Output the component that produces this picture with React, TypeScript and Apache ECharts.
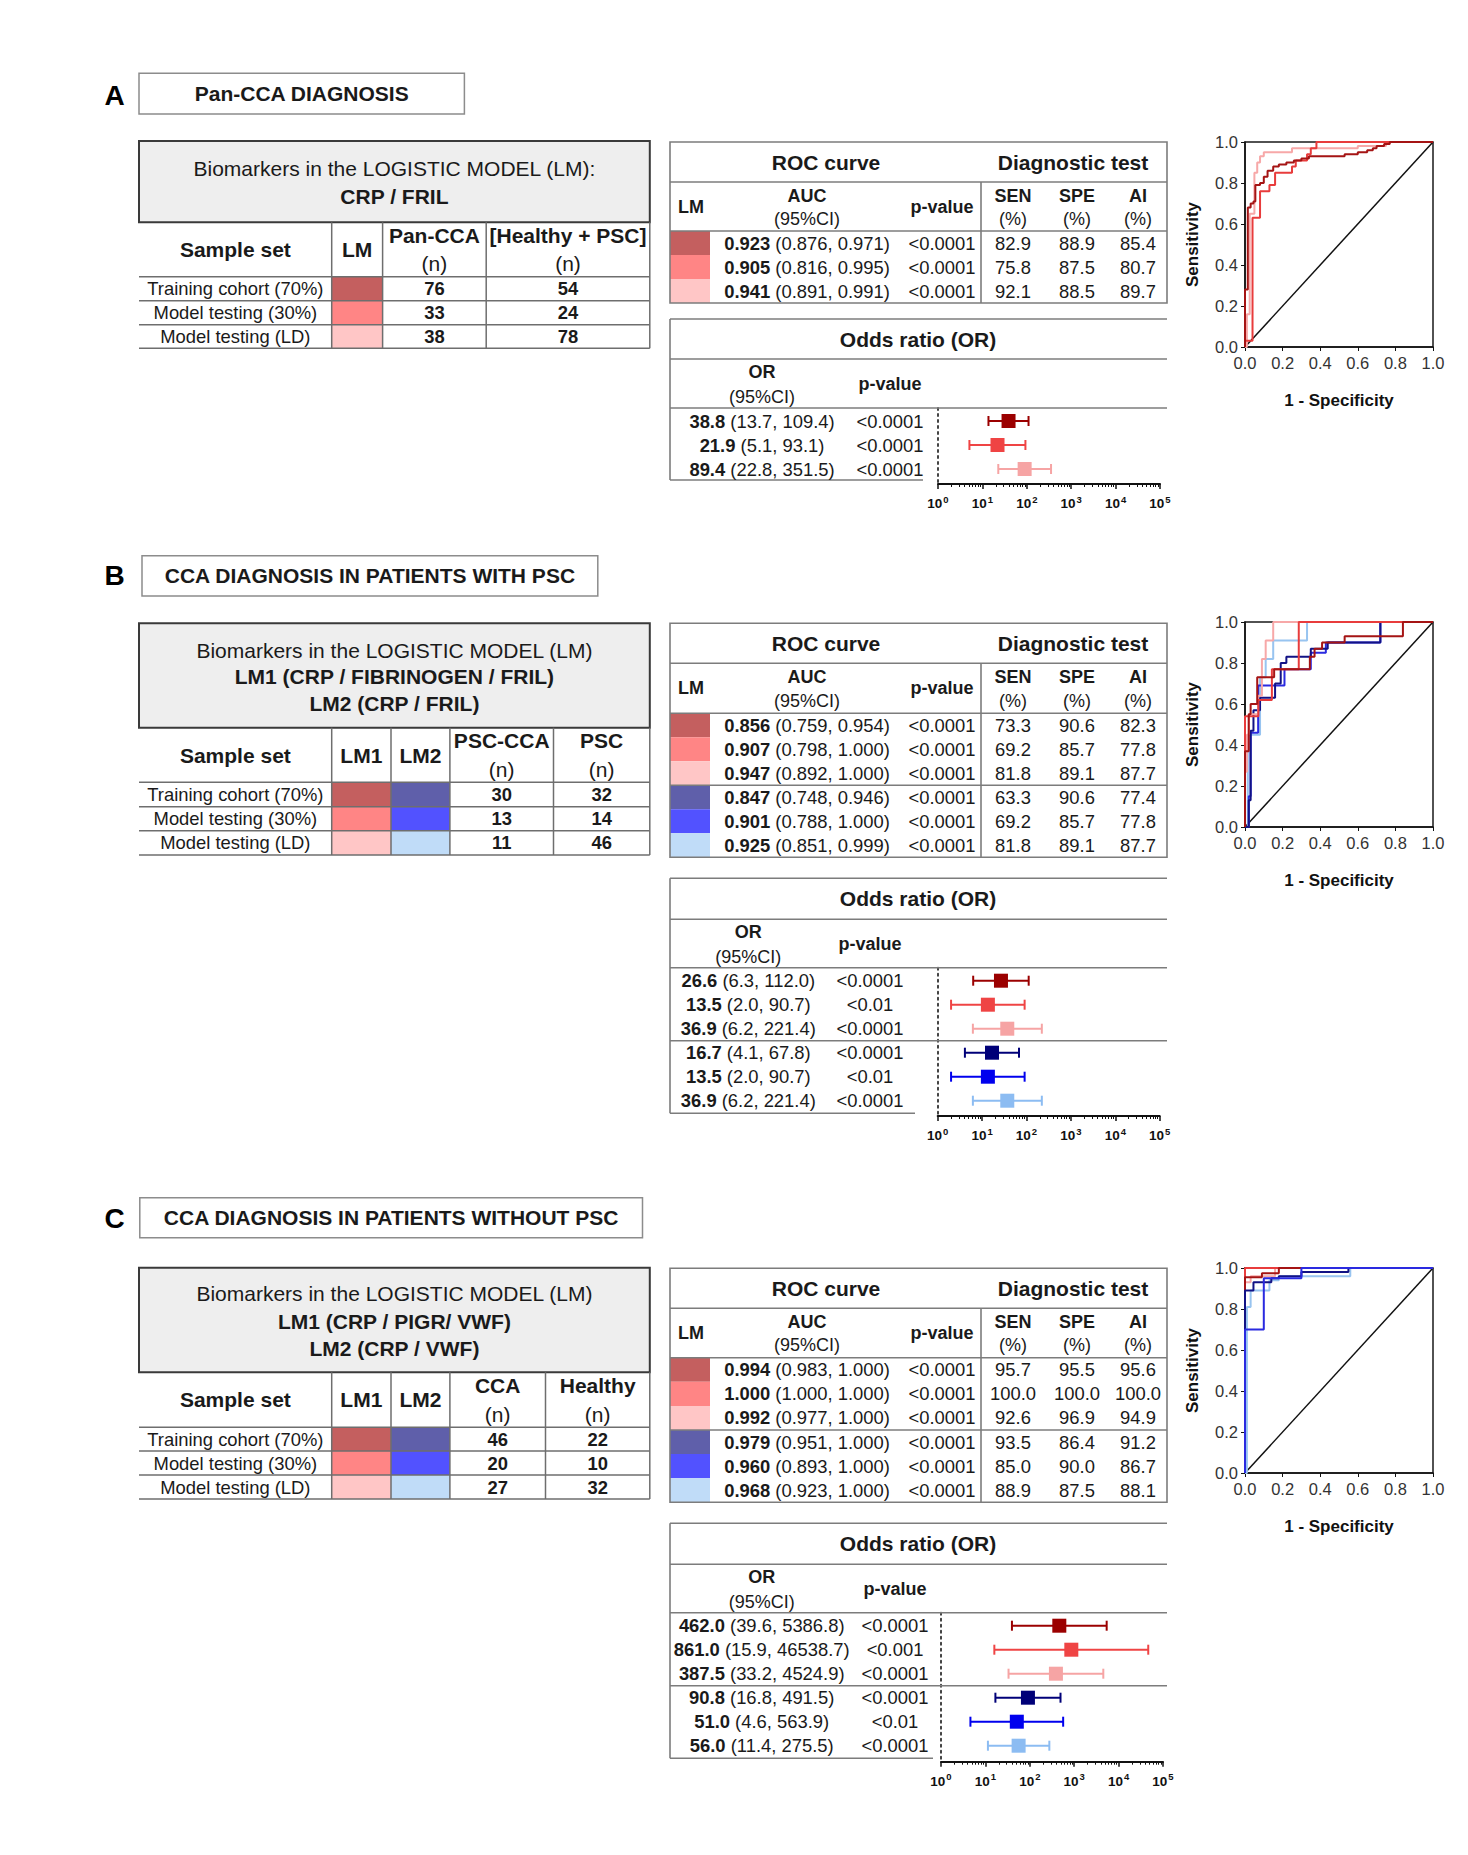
import React, { useEffect, useRef } from "react";
import * as echarts from "echarts";

const FONT = "'Liberation Sans', Arial, Helvetica, sans-serif";
const INK = "#1a1a1a";

// ---------------- DATA ----------------
const panelLetters = ["A", "B", "C"];
const panelTitles = [
  "Pan-CCA DIAGNOSIS",
  "CCA DIAGNOSIS IN PATIENTS WITH PSC",
  "CCA DIAGNOSIS IN PATIENTS WITHOUT PSC",
];
const sampleSets = ["Training cohort (70%)", "Model testing (30%)", "Model testing (LD)"];

const modelTextA = ["Biomarkers in the LOGISTIC MODEL (LM):", "CRP / FRIL"];
const modelTextB = ["Biomarkers in the LOGISTIC MODEL (LM)", "LM1 (CRP / FIBRINOGEN / FRIL)", "LM2 (CRP / FRIL)"];
const modelTextC = ["Biomarkers in the LOGISTIC MODEL (LM)", "LM1 (CRP / PIGR/ VWF)", "LM2 (CRP / VWF)"];

const groupHeadersA = ["Pan-CCA", "[Healthy + PSC]"];
const groupHeadersB = ["PSC-CCA", "PSC"];
const groupHeadersC = ["CCA", "Healthy"];

const nCaseA = [76, 33, 38];
const nCtrlA = [54, 24, 78];
const nCaseB = [30, 13, 11];
const nCtrlB = [32, 14, 46];
const nCaseC = [46, 20, 27];
const nCtrlC = [22, 10, 32];

const aucA = [0.923, 0.905, 0.941];
const aucLoA = [0.876, 0.816, 0.891];
const aucHiA = [0.971, 0.995, 0.991];
const aucPA = ["<0.0001", "<0.0001", "<0.0001"];
const senA = [82.9, 75.8, 92.1];
const speA = [88.9, 87.5, 88.5];
const aiA = [85.4, 80.7, 89.7];

const aucB = [0.856, 0.907, 0.947, 0.847, 0.901, 0.925];
const aucLoB = [0.759, 0.798, 0.892, 0.748, 0.788, 0.851];
const aucHiB = [0.954, 1.0, 1.0, 0.946, 1.0, 0.999];
const aucPB = ["<0.0001", "<0.0001", "<0.0001", "<0.0001", "<0.0001", "<0.0001"];
const senB = [73.3, 69.2, 81.8, 63.3, 69.2, 81.8];
const speB = [90.6, 85.7, 89.1, 90.6, 85.7, 89.1];
const aiB = [82.3, 77.8, 87.7, 77.4, 77.8, 87.7];

const aucC = [0.994, 1.0, 0.992, 0.979, 0.96, 0.968];
const aucLoC = [0.983, 1.0, 0.977, 0.951, 0.893, 0.923];
const aucHiC = [1.0, 1.0, 1.0, 1.0, 1.0, 1.0];
const aucPC = ["<0.0001", "<0.0001", "<0.0001", "<0.0001", "<0.0001", "<0.0001"];
const senC = [95.7, 100.0, 92.6, 93.5, 85.0, 88.9];
const speC = [95.5, 100.0, 96.9, 86.4, 90.0, 87.5];
const aiC = [95.6, 100.0, 94.9, 91.2, 86.7, 88.1];

const orA = [38.8, 21.9, 89.4];
const orLoA = [13.7, 5.1, 22.8];
const orHiA = [109.4, 93.1, 351.5];
const orPA = ["<0.0001", "<0.0001", "<0.0001"];

const orB = [26.6, 13.5, 36.9, 16.7, 13.5, 36.9];
const orLoB = [6.3, 2.0, 6.2, 4.1, 2.0, 6.2];
const orHiB = [112.0, 90.7, 221.4, 67.8, 90.7, 221.4];
const orPB = ["<0.0001", "<0.01", "<0.0001", "<0.0001", "<0.01", "<0.0001"];

const orC = [462.0, 861.0, 387.5, 90.8, 51.0, 56.0];
const orLoC = [39.6, 15.9, 33.2, 16.8, 4.6, 11.4];
const orHiC = [5386.8, 46538.7, 4524.9, 491.5, 563.9, 275.5];
const orPC = ["<0.0001", "<0.001", "<0.0001", "<0.0001", "<0.01", "<0.0001"];

// ROC curves: [1 - specificity, sensitivity] corners
const rocA_train = [[0, 0], [0, 0.28], [0.015, 0.68], [0.03, 0.7], [0.045, 0.71], [0.055, 0.79], [0.08, 0.8], [0.1, 0.83], [0.12, 0.86], [0.15, 0.88], [0.18, 0.89], [0.22, 0.9], [0.26, 0.91], [0.3, 0.92], [0.34, 0.93], [0.53, 0.94], [0.6, 0.95], [0.65, 0.96], [0.68, 0.97], [0.7, 0.98], [0.74, 0.99], [0.77, 1.0], [1, 1]];
const rocA_test = [[0, 0], [0, 0.03], [0.04, 0.63], [0.08, 0.76], [0.13, 0.79], [0.16, 0.85], [0.25, 0.88], [0.27, 0.91], [0.33, 0.94], [0.35, 0.97], [0.38, 1.0], [1, 1]];
const rocA_ld = [[0, 0], [0.01, 0.16], [0.025, 0.65], [0.05, 0.85], [0.065, 0.9], [0.08, 0.93], [0.1, 0.95], [0.25, 0.97], [0.6, 0.98], [0.75, 1.0], [1, 1]];

const rocB_lm1_train = [[0, 0], [0, 0.37], [0.02, 0.55], [0.03, 0.6], [0.065, 0.73], [0.155, 0.77], [0.345, 0.83], [0.37, 0.87], [0.41, 0.9], [0.53, 0.93], [0.84, 1.0], [1, 1]];
const rocB_lm1_test = [[0, 0], [0, 0.54], [0.071, 0.62], [0.143, 0.77], [0.286, 1.0], [1, 1]];
const rocB_lm1_ld = [[0, 0], [0, 0.27], [0.01, 0.45], [0.02, 0.55], [0.07, 0.64], [0.09, 0.82], [0.11, 0.91], [0.15, 1.0], [1, 1]];
const rocB_lm2_train = [[0, 0], [0.02, 0.13], [0.03, 0.47], [0.045, 0.57], [0.08, 0.63], [0.16, 0.7], [0.19, 0.8], [0.22, 0.83], [0.35, 0.87], [0.44, 0.9], [0.72, 1.0], [1, 1]];
const rocB_lm2_test = [[0, 0], [0.02, 0.15], [0.03, 0.46], [0.07, 0.69], [0.21, 0.77], [0.35, 0.85], [0.43, 0.9], [0.72, 1.0], [1, 1]];
const rocB_lm2_ld = [[0, 0], [0.015, 0.45], [0.08, 0.73], [0.11, 0.82], [0.15, 0.91], [0.33, 1.0], [1, 1]];

const rocC_lm1_train = [[0, 0], [0, 0.955], [0.09, 0.975], [0.18, 1.0], [1, 1]];
const rocC_lm1_test = [[0, 0], [0, 1.0], [1, 1]];
const rocC_lm1_ld = [[0, 0], [0, 0.93], [0.03, 0.96], [0.16, 1.0], [1, 1]];
const rocC_lm2_train = [[0, 0], [0, 0.89], [0.045, 0.93], [0.14, 0.95], [0.18, 0.96], [0.3, 0.98], [0.55, 1.0], [1, 1]];
const rocC_lm2_test = [[0, 0], [0, 0.7], [0.1, 0.95], [0.3, 1.0], [1, 1]];
const rocC_lm2_ld = [[0, 0], [0.01, 0.81], [0.03, 0.89], [0.13, 0.94], [0.18, 0.96], [0.56, 1.0], [1, 1]];

const diagonal = [[0, 0], [1, 1]];

// ---------------- STYLE ----------------
const SW_RED = ["#c45f5f", "#ff8585", "#ffc6c6"];
const SW_BLUE = ["#5f5faa", "#5252ff", "#c0dcf8"];
const ROC_RED = ["#a51414", "#e83c3c", "#f7a8a8"];
const ROC_BLUE = ["#121285", "#2a2ae0", "#98c4f0"];
const FOR_COL = ["#9b0000", "#ef4444", "#f6a4a4", "#000078", "#0000ee", "#8cbcf2"];

const ROW_FS = 18.4;

function buildGraphics() {
  const G: any[] = [];
  const text = (x: number, y: number, t: string, size: number, bold = false, align = "center", fill = INK) => {
    G.push({
      type: "text", x, y, silent: true, z: 10,
      style: {
        text: t, fontSize: size, fontWeight: bold ? "bold" : "normal", fontFamily: FONT, fill,
        align, verticalAlign: "middle", textAlign: align, textVerticalAlign: "middle",
      },
    });
  };
  const boldLead = (x: number, y: number, lead: string, rest: string, size: number) => {
    G.push({
      type: "text", x, y, silent: true, z: 10,
      style: {
        text: `{b|${lead}}{r|${rest}}`,
        rich: {
          b: { fontSize: size, fontWeight: "bold", fontFamily: FONT, fill: INK },
          r: { fontSize: size, fontWeight: "normal", fontFamily: FONT, fill: INK },
        },
        fontSize: size, fontFamily: FONT, fill: INK,
        align: "center", verticalAlign: "middle", textAlign: "center", textVerticalAlign: "middle",
      },
    });
  };
  const rect = (x: number, y: number, w: number, h: number, fill: string, stroke = "none", lw = 1, z = 1) => {
    G.push({ type: "rect", silent: true, z, shape: { x, y, width: w, height: h }, style: { fill, stroke, lineWidth: lw } });
  };
  const hline = (x1: number, x2: number, y: number, color = "#7c7c7c", lw = 1.6) => {
    G.push({ type: "line", silent: true, z: 5, shape: { x1, y1: y, x2, y2: y }, style: { stroke: color, lineWidth: lw } });
  };
  const vline = (x: number, y1: number, y2: number, color = "#7c7c7c", lw = 1.6) => {
    G.push({ type: "line", silent: true, z: 5, shape: { x1: x, y1, x2: x, y2 }, style: { stroke: color, lineWidth: lw } });
  };

  // ---------- left tables ----------
  const L = 139, R = 649.8;
  const drawLeft = (p: any) => {
    text(114.7, p.letterY, p.letter, 28, true, "center", "#000");
    rect(p.box[0], p.box[1], p.box[2], p.box[3], "#ffffff", "#8c8c8c", 1.5);
    text(p.box[0] + p.box[2] / 2, p.box[1] + p.box[3] / 2, p.title, 21, true);
    rect(L, p.grayTop, R - L, p.headTop - p.grayTop, "#eeeeee", "#3a3a3a", 2, 2);
    p.lines.forEach((t: string, i: number) => text((L + R) / 2, p.lineY[i], t, 21, i > 0));
    const rl = p.rowLines;
    const bottom = rl[3];
    p.swatchCols.forEach((cols: string[], c: number) => {
      const x0 = p.cols[c], x1 = p.cols[c + 1];
      for (let i = 0; i < 3; i++) rect(x0, rl[i], x1 - x0, rl[i + 1] - rl[i], cols[i]);
    });
    p.cols.forEach((x: number) => vline(x, p.headTop, bottom, "#6e6e6e", 1.5));
    vline(R, p.headTop, bottom, "#6e6e6e", 1.5);
    rl.forEach((y: number) => hline(L, R, y, "#6e6e6e", 1.5));
    const headMid = (p.headTop + rl[0]) / 2;
    const sx = (L + p.cols[0]) / 2;
    text(sx, headMid, "Sample set", 21, true);
    p.lmLabels.forEach((t: string, c: number) => text((p.cols[c] + p.cols[c + 1]) / 2, headMid, t, 21, true));
    const nc = p.cols.length;
    const gx = [(p.cols[nc - 2] + p.cols[nc - 1]) / 2, (p.cols[nc - 1] + R) / 2];
    p.groups.forEach((t: string, g: number) => {
      text(gx[g], p.headTop + 13, t, 21, true);
      text(gx[g], rl[0] - 13, "(n)", 21);
    });
    for (let i = 0; i < 3; i++) {
      const cy = (rl[i] + rl[i + 1]) / 2;
      text(sx, cy, sampleSets[i], ROW_FS);
      text(gx[0], cy, String(p.nCase[i]), ROW_FS, true);
      text(gx[1], cy, String(p.nCtrl[i]), ROW_FS, true);
    }
  };

  drawLeft({
    letter: panelLetters[0], letterY: 95, box: [139, 73.3, 325.4, 40.7], title: panelTitles[0],
    grayTop: 141, headTop: 222.3, lines: modelTextA, lineY: [168.3, 196.7],
    cols: [331.7, 382.6, 486.2], swatchCols: [SW_RED], lmLabels: ["LM"],
    rowLines: [276.7, 300.7, 324.8, 348.3], groups: groupHeadersA, nCase: nCaseA, nCtrl: nCtrlA,
  });
  drawLeft({
    letter: panelLetters[1], letterY: 575.5, box: [142, 555.7, 455.8, 40.3], title: panelTitles[1],
    grayTop: 623.3, headTop: 727.7, lines: modelTextB, lineY: [650, 676.7, 703.3],
    cols: [331.7, 391, 449.9, 553.5], swatchCols: [SW_RED, SW_BLUE], lmLabels: ["LM1", "LM2"],
    rowLines: [782.3, 806.7, 830.7, 855], groups: groupHeadersB, nCase: nCaseB, nCtrl: nCtrlB,
  });
  drawLeft({
    letter: panelLetters[2], letterY: 1218.3, box: [139.8, 1197.7, 502.7, 40], title: panelTitles[2],
    grayTop: 1267.7, headTop: 1372.3, lines: modelTextC, lineY: [1293.3, 1321, 1348.3],
    cols: [331.7, 391, 449.9, 545.5], swatchCols: [SW_RED, SW_BLUE], lmLabels: ["LM1", "LM2"],
    rowLines: [1427.3, 1451, 1475, 1499], groups: groupHeadersC, nCase: nCaseC, nCtrl: nCtrlC,
  });

  // ---------- ROC tables ----------
  const TL = 670, TR = 1167, TV = 981;
  const drawRoc = (p: any) => {
    const n = p.auc.length;
    const rowH = (p.bottom - p.headBottom) / n;
    const sw = n === 3 ? SW_RED : SW_RED.concat(SW_BLUE);
    for (let i = 0; i < n; i++) rect(TL, p.headBottom + i * rowH, 40, rowH, sw[i]);
    rect(TL, p.top, TR - TL, p.bottom - p.top, "none", "#7c7c7c", 1.6, 5);
    hline(TL, TR, p.line1);
    hline(TL, TR, p.headBottom);
    if (n === 6) hline(TL, TR, p.headBottom + 3 * rowH);
    vline(TV, p.line1, p.bottom);
    text(826, (p.top + p.line1) / 2, "ROC curve", 21, true);
    text(1073, (p.top + p.line1) / 2, "Diagnostic test", 21, true);
    const h1 = p.line1 + 13.5, h2 = p.headBottom - 12.5, hm = (p.line1 + p.headBottom) / 2;
    text(691, hm, "LM", 18, true);
    text(807, h1, "AUC", 18, true);
    text(807, h2, "(95%CI)", 18);
    text(942, hm, "p-value", 18, true);
    [["SEN", 1013], ["SPE", 1077], ["AI", 1138]].forEach(([t, x]: any) => {
      text(x, h1, t, 18, true);
      text(x, h2, "(%)", 18);
    });
    for (let i = 0; i < n; i++) {
      const cy = p.headBottom + (i + 0.5) * rowH;
      boldLead(807, cy, p.auc[i].toFixed(3), ` (${p.lo[i].toFixed(3)}, ${p.hi[i].toFixed(3)})`, ROW_FS);
      text(942, cy, p.pv[i], ROW_FS);
      text(1013, cy, p.sen[i].toFixed(1), ROW_FS);
      text(1077, cy, p.spe[i].toFixed(1), ROW_FS);
      text(1138, cy, p.ai[i].toFixed(1), ROW_FS);
    }
  };
  drawRoc({ top: 142, line1: 182, headBottom: 231, bottom: 303, auc: aucA, lo: aucLoA, hi: aucHiA, pv: aucPA, sen: senA, spe: speA, ai: aiA });
  drawRoc({ top: 623.3, line1: 663.3, headBottom: 713.3, bottom: 857.3, auc: aucB, lo: aucLoB, hi: aucHiB, pv: aucPB, sen: senB, spe: speB, ai: aiB });
  drawRoc({ top: 1268.3, line1: 1308.3, headBottom: 1357.7, bottom: 1502.3, auc: aucC, lo: aucLoC, hi: aucHiC, pv: aucPC, sen: senC, spe: speC, ai: aiC });

  // ---------- OR tables ----------
  const drawOr = (p: any) => {
    const n = p.or.length;
    hline(TL, TR, p.top);
    hline(TL, TR, p.line1);
    hline(TL, TR, p.headBottom);
    if (n === 6) hline(TL, TR, p.headBottom + 13 + 2.5 * 24);
    hline(TL, p.bottomR, p.bottom);
    vline(TL, p.top, p.bottom);
    text(918, (p.top + p.line1) / 2, "Odds ratio (OR)", 21, true);
    text(p.orX, p.line1 + 13, "OR", 18, true);
    text(p.orX, p.headBottom - 11, "(95%CI)", 18);
    text(p.pX, (p.line1 + p.headBottom) / 2, "p-value", 18, true);
    for (let i = 0; i < n; i++) {
      const cy = p.headBottom + 13 + i * 24;
      boldLead(p.orX, cy, p.or[i].toFixed(1), ` (${p.lo[i].toFixed(1)}, ${p.hi[i].toFixed(1)})`, ROW_FS);
      text(p.pX, cy, p.pv[i], ROW_FS);
    }
  };
  drawOr({ top: 319, line1: 359, headBottom: 408, bottom: 480, bottomR: 923, orX: 762, pX: 890, or: orA, lo: orLoA, hi: orHiA, pv: orPA });
  drawOr({ top: 878.3, line1: 919.3, headBottom: 967.7, bottom: 1113.3, bottomR: 915, orX: 748.3, pX: 870, or: orB, lo: orLoB, hi: orHiB, pv: orPB });
  drawOr({ top: 1523.3, line1: 1564.3, headBottom: 1612.7, bottom: 1758.3, bottomR: 933, orX: 761.7, pX: 895, or: orC, lo: orLoC, hi: orHiC, pv: orPC });

  return G;
}

function buildOption() {
  const rocTops = [142, 622, 1268];
  const forestGrids = [
    { left: 938, top: 408, axisY: 484 },
    { left: 937.7, top: 967.7, axisY: 1116 },
    { left: 941, top: 1612.7, axisY: 1761.7 },
  ];
  const grid: any[] = [];
  const xAxis: any[] = [];
  const yAxis: any[] = [];
  const series: any[] = [];

  rocTops.forEach((top, gi) => {
    grid.push({ left: 1245, top, width: 188, height: 205, show: true, borderColor: "#1a1a1a", borderWidth: 1.5, backgroundColor: "transparent" });
    const common = {
      type: "value", gridIndex: gi, min: 0, max: 1, interval: 0.2,
      nameLocation: "middle", nameGap: 46,
      nameTextStyle: { fontSize: 17, fontWeight: "bold", color: "#111", fontFamily: FONT },
      axisLine: { onZero: false, lineStyle: { color: "#111", width: 1.5 } },
      axisTick: { show: true, length: 4, lineStyle: { color: "#111" } },
      axisLabel: { fontSize: 16.5, color: "#333", fontFamily: FONT, margin: 7, formatter: (v: number) => v.toFixed(1) },
      splitLine: { show: false },
    };
    xAxis.push({ ...common, name: "1 - Specificity", nameGap: 45 });
    yAxis.push({ ...common, name: "Sensitivity", nameRotate: 90, nameGap: 44 });
  });

  forestGrids.forEach((f, k) => {
    const gi = 3 + k;
    grid.push({ left: f.left, top: f.top, width: 222, height: f.axisY - f.top });
    xAxis.push({
      type: "log", logBase: 10, gridIndex: gi, min: 1, max: 100000, splitNumber: 5,
      axisLine: { onZero: false, lineStyle: { color: "#111", width: 2 } },
      axisTick: { show: true, length: 5, lineStyle: { color: "#111", width: 1.5 } },
      minorTick: { show: true, splitNumber: 9, length: 3, lineStyle: { color: "#111", width: 1 } },
      axisLabel: {
        margin: 10,
        formatter: (v: number) => `{b|10}{s|${Math.round(Math.log10(v))}}`,
        rich: {
          b: { fontSize: 13.5, fontWeight: "bold", color: "#111", fontFamily: FONT },
          s: { fontSize: 9.5, fontWeight: "bold", color: "#111", fontFamily: FONT, padding: [0, 0, 9, 1] },
        },
      },
      splitLine: { show: false },
    });
    yAxis.push({
      type: "value", gridIndex: gi, inverse: true,
      min: -13 / 24, max: (f.axisY - f.top - 13) / 24,
      axisLine: { show: true, onZero: false, lineStyle: { color: "#444", width: 2, type: [2, 4] } },
      axisTick: { show: false }, axisLabel: { show: false }, splitLine: { show: false },
    });
  });

  const rocPanels = [
    { curves: [rocA_ld, rocA_test, rocA_train], colors: [ROC_RED[2], ROC_RED[1], ROC_RED[0]] },
    { curves: [rocB_lm2_ld, rocB_lm2_test, rocB_lm2_train, rocB_lm1_ld, rocB_lm1_test, rocB_lm1_train], colors: [ROC_BLUE[2], ROC_BLUE[1], ROC_BLUE[0], ROC_RED[2], ROC_RED[1], ROC_RED[0]] },
    { curves: [rocC_lm1_ld, rocC_lm1_test, rocC_lm1_train, rocC_lm2_ld, rocC_lm2_train, rocC_lm2_test], colors: [ROC_RED[2], ROC_RED[1], ROC_RED[0], ROC_BLUE[2], ROC_BLUE[0], ROC_BLUE[1]] },
  ];
  rocPanels.forEach((p, gi) => {
    series.push({ type: "line", xAxisIndex: gi, yAxisIndex: gi, data: diagonal, symbol: "none", silent: true, lineStyle: { color: "#111", width: 1.5 } });
    p.curves.forEach((c, i) => {
      series.push({ type: "line", xAxisIndex: gi, yAxisIndex: gi, data: c, step: "end", symbol: "none", silent: true, lineStyle: { color: p.colors[i], width: 2 } });
    });
  });

  const forestData = [
    { or: orA, lo: orLoA, hi: orHiA },
    { or: orB, lo: orLoB, hi: orHiB },
    { or: orC, lo: orLoC, hi: orHiC },
  ];
  forestData.forEach((d, k) => {
    const gi = 3 + k;
    series.push({
      type: "custom", xAxisIndex: gi, yAxisIndex: gi, clip: false, silent: true, z: 3,
      encode: { x: [0, 1], y: 2 },
      data: d.or.map((_, i) => ({ value: [d.lo[i], d.hi[i], i], itemStyle: { color: FOR_COL[i] } })),
      renderItem: (params: any, api: any) => {
        const y = api.value(2);
        const p1 = api.coord([api.value(0), y]);
        const p2 = api.coord([api.value(1), y]);
        const color = api.visual("color");
        const h = 5;
        const st = { stroke: color, lineWidth: 2 };
        return {
          type: "group",
          children: [
            { type: "line", shape: { x1: p1[0], y1: p1[1], x2: p2[0], y2: p2[1] }, style: st },
            { type: "line", shape: { x1: p1[0], y1: p1[1] - h, x2: p1[0], y2: p1[1] + h }, style: st },
            { type: "line", shape: { x1: p2[0], y1: p2[1] - h, x2: p2[0], y2: p2[1] + h }, style: st },
          ],
        };
      },
    });
    series.push({
      type: "scatter", xAxisIndex: gi, yAxisIndex: gi, symbol: "rect", symbolSize: 14, silent: true, z: 4,
      data: d.or.map((v, i) => ({ value: [v, i], itemStyle: { color: FOR_COL[i], opacity: 1 } })),
    });
  });

  return {
    animation: false,
    backgroundColor: "#ffffff",
    textStyle: { fontFamily: FONT },
    grid, xAxis, yAxis, series,
    graphic: { elements: buildGraphics() },
  };
}

export default function App() {
  const ref = useRef<HTMLDivElement>(null);
  useEffect(() => {
    if (!ref.current) return;
    const chart = echarts.init(ref.current, null, { renderer: "svg" });
    chart.setOption(buildOption() as any);
    return () => chart.dispose();
  }, []);
  return (
    <div
      ref={ref}
      style={{ position: "absolute", left: 0, top: 0, width: 1468, height: 1855, background: "#fff" }}
    />
  );
}
